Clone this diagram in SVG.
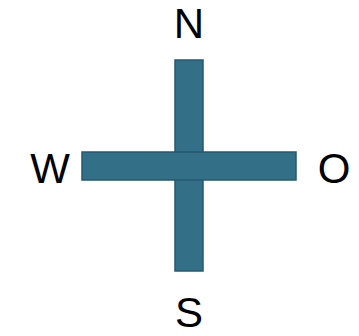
<svg xmlns="http://www.w3.org/2000/svg" width="359" height="336" viewBox="0 0 359 336">
<style>
.bar{fill:#336f87;stroke:#265a70;stroke-width:1.5}
.lbl{font-family:"Liberation Sans",Arial,sans-serif;font-size:42px;fill:#000;text-anchor:middle}
</style>
<rect width="359" height="336" fill="#fff"/>
<g id="cross">
<rect class="bar" x="175" y="60" width="28" height="211"/>
<rect class="bar" x="82" y="152" width="214" height="28"/>
<rect x="176" y="153" width="26" height="26" fill="#336f87"/>
</g>
<g id="N"><text class="lbl" x="189" y="38">N</text></g>
<g id="W"><text class="lbl" x="50" y="183">W</text></g>
<g id="O"><text class="lbl" x="334" y="183">O</text></g>
<g id="S"><text class="lbl" x="189" y="327">S</text></g>
</svg>
